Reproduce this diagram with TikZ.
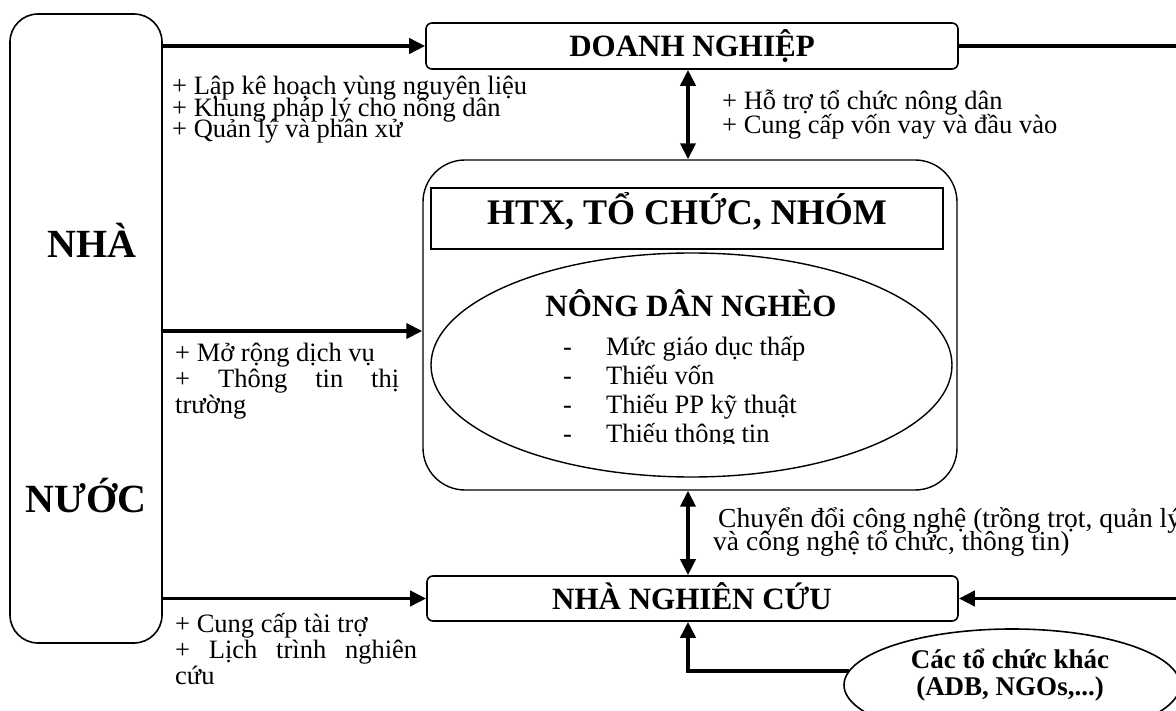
\documentclass[tikz,border=0pt]{standalone}
\usepackage{fontspec}
\setmainfont{Liberation Serif}
\usetikzlibrary{arrows.meta,shapes.geometric}
\newcommand\txtblock[4]{\parbox[t]{#1}{\raggedright\fontsize{#2}{#3}\selectfont\lineskiplimit=-100pt\relax #4}}
\begin{document}
\begin{tikzpicture}[x=1pt,y=-1pt,
  box/.style={draw, line width=1.6pt, inner sep=0pt},
  thinbox/.style={draw, line width=1.4pt, inner sep=0pt},
  arr/.style={line width=3.8pt, -{Triangle[length=16pt,width=15pt]}},
  darr/.style={line width=3.8pt, {Triangle[length=16pt,width=15pt]}-{Triangle[length=16pt,width=15pt]}},
  plainline/.style={line width=3.8pt},
  ttl/.style={inner sep=0pt, anchor=base, font=\bfseries\fontsize{31}{31}\selectfont},
  lbl/.style={inner sep=0pt, anchor=base west},
]
\useasboundingbox (0,0) rectangle (1176,711);

% NHA NUOC
\node[box, rounded corners=28pt, minimum width=152pt, minimum height=629pt] (nn) at (86,328.5) {};
\node[ttl, font=\bfseries\fontsize{40}{40}\selectfont] (nha) at (92,258) {NHÀ};
\node[ttl, font=\bfseries\fontsize{40}{40}\selectfont] (nuoc) at (86,512) {NƯỚC};

% DOANH NGHIEP
\node[box, rounded corners=6pt, minimum width=532pt, minimum height=46pt] (dn) at (692,46) {};
\node[ttl] (dnt) at (692,57) {DOANH NGHIỆP};

% central box
\node[thinbox, rounded corners=42pt, minimum width=534pt, minimum height=330pt] (cb) at (690,325) {};
\node[thinbox, minimum width=512pt, minimum height=61pt] (htx) at (687,218.5) {};
\node[ttl, font=\bfseries\fontsize{36}{36}\selectfont] (htxt) at (687,225) {HTX, TỔ CHỨC, NHÓM};
\node[draw, ellipse, line width=1.4pt, inner sep=0pt, minimum width=521pt, minimum height=224pt] (el) at (691.5,365) {};
\node[ttl] (ndn) at (691,317) {NÔNG DÂN NGHÈO};
\begin{scope}
\clip (550,330) rectangle (900,443);
\node[lbl] (lst) at (563,356) {\txtblock{320pt}{26.5}{28.8}{\makebox[43pt][l]{-}Mức giáo dục thấp\\\makebox[43pt][l]{-}Thiếu vốn\\\makebox[43pt][l]{-}Thiếu PP kỹ thuật\\\makebox[43pt][l]{-}Thiếu thông tin}};
\end{scope}

% NHA NGHIEN CUU
\node[box, rounded corners=6pt, minimum width=531pt, minimum height=45pt] (nnc) at (692.5,598.5) {};
\node[ttl] (nnct) at (692,609) {NHÀ NGHIÊN CỨU};

% other organisations
\node[draw, ellipse, line width=1.6pt, inner sep=0pt, minimum width=336pt, minimum height=112pt] (ot) at (1012,685) {};
\node[inner sep=0pt, anchor=base] (ott) at (1010,668) {\parbox[t]{300pt}{\centering\bfseries\fontsize{27}{27}\selectfont Các tổ chức khác\\(ADB, NGOs,...)}};

% connectors
\coordinate (r1) at (1176,46);
\coordinate (r2) at (1176,598.5);
\draw[arr] (nn.east |- dn.west) -- (dn.west);
\draw[plainline] (dn.east) -- (r1);
\draw[arr] (nn.east |- 0,331) -- (cb.west |- 0,331);
\draw[arr] (nn.east |- nnc.west) -- (nnc.west);
\draw[arr] (r2) -- (nnc.east);
\draw[darr] (dn.south -| 688,0) -- (cb.north -| 688,0);
\draw[darr] (cb.south -| 688,0) -- (nnc.north -| 688,0);
\draw[arr] (ot.175) -| (nnc.south -| 688,0);

% labels
\node[lbl] (t1) at (172,95) {\txtblock{400pt}{26.5}{21.5}{+ Lập kê hoạch vùng nguyên liệu\\+ Khung pháp lý cho nông dân\\+ Quản lý và phân xử}};
\node[lbl] (t2) at (722,110) {\txtblock{420pt}{26.5}{24}{+ Hỗ trợ tổ chức nông dân\\+ Cung cấp vốn vay và đầu vào}};
\node[lbl] (t3) at (175,362) {\txtblock{240pt}{26.5}{26}{+ Mở rộng dịch vụ\\\makebox[224pt][s]{+ Thông tin thị}\\trường}};
\node[lbl] (t4) at (713,527) {\txtblock{500pt}{27.5}{23}{\hspace*{5pt}Chuyển đổi công nghệ (trồng trọt, quản lý\\và công nghệ tổ chức, thông tin)}};
\node[lbl] (t5) at (175,632) {\txtblock{250pt}{26.5}{26}{+ Cung cấp tài trợ\\\makebox[242pt][s]{+ Lịch trình nghiên}\\cứu}};
\end{tikzpicture}
\end{document}
